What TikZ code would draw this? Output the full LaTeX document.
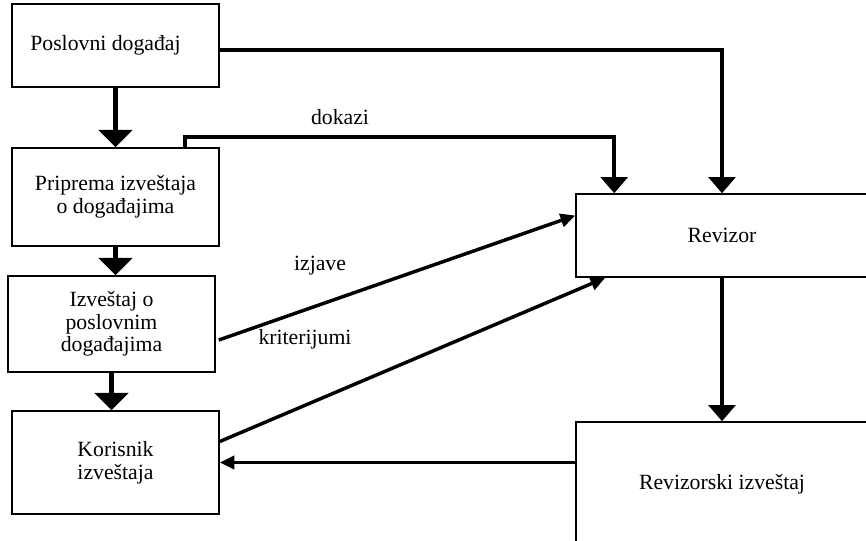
\documentclass[tikz,border=0pt]{standalone}
\usepackage{fontspec}
\setmainfont{Liberation Serif}
\usetikzlibrary{arrows.meta,calc}

\tikzset{
  box/.style={draw,line width=1.2pt,rectangle,align=center,inner sep=0pt,
    font=\fontsize{16.3}{17}\selectfont},
  lbl/.style={inner sep=0pt,font=\fontsize{16.3}{17}\selectfont},
  bigarrow/.style={line width=3.4pt,-{Triangle[width=25pt,length=13pt]}},
  midarrow/.style={line width=2.6pt,-{Triangle[width=20pt,length=12pt]}},
  thinarrow/.style={line width=2.6pt,-{Triangle[width=10pt,length=11pt]}}
}

\begin{document}
\begin{tikzpicture}[x=0.75pt,y=-0.75pt]
\clip (0,0) rectangle (866,540);
\fill[white] (0,0) rectangle (866,540);
% left column
\node[box,minimum width=155.25pt,minimum height=62.25pt] (pos) at (115.5,45.5) {Poslovni događaj\hspace*{15pt}};
\node[box,minimum width=155.25pt,minimum height=73.5pt] (prip) at (115.5,197) {Priprema izveštaja\\o događajima};
\node[box,minimum width=155.25pt,minimum height=72pt] (izv) at (111.5,324) {Izveštaj o\\poslovnim\\događajima};
\node[box,minimum width=155.25pt,minimum height=77.25pt] (kor) at (115.5,462.5) {Korisnik\\izveštaja};
% right column
\node[box,minimum width=219pt,minimum height=62.25pt] (rev) at (722,235.5) {Revizor};
\node[box,minimum width=219pt,minimum height=93pt] (revizv) at (722,484) {Revizorski izveštaj};

\draw[bigarrow] (pos.south) -- (prip.north);
\draw[bigarrow] (prip.south) -- (prip.south |- izv.north);
\draw[bigarrow] (izv.south) -- (izv.south |- kor.north);

\draw[midarrow] ($(pos.east)+(0,4.5)$) -| (rev.north);
\draw[midarrow] ($(prip.north east)+(-35,0)$) -- ++(0,-10) -| ($(rev.north west)+(39,0)$);
\node[lbl] (dok) at (340,117) {dokazi};

\draw[thinarrow] ($(izv.east)+(3,16)$) -- ($(rev.west)+(0,-20)$);
\node[lbl] (izj) at (320,266) {izjave};
\draw[thinarrow] ($(kor.east)+(0,-21)$) -- ($(rev.south west)+(30,0)$);
\node[lbl] (krit) at (305,339) {kriterijumi};

\draw[midarrow] (rev.south) -- (revizv.north);
\draw[thinarrow] (kor.east -| revizv.west) -- (kor.east);
\end{tikzpicture}
\end{document}
